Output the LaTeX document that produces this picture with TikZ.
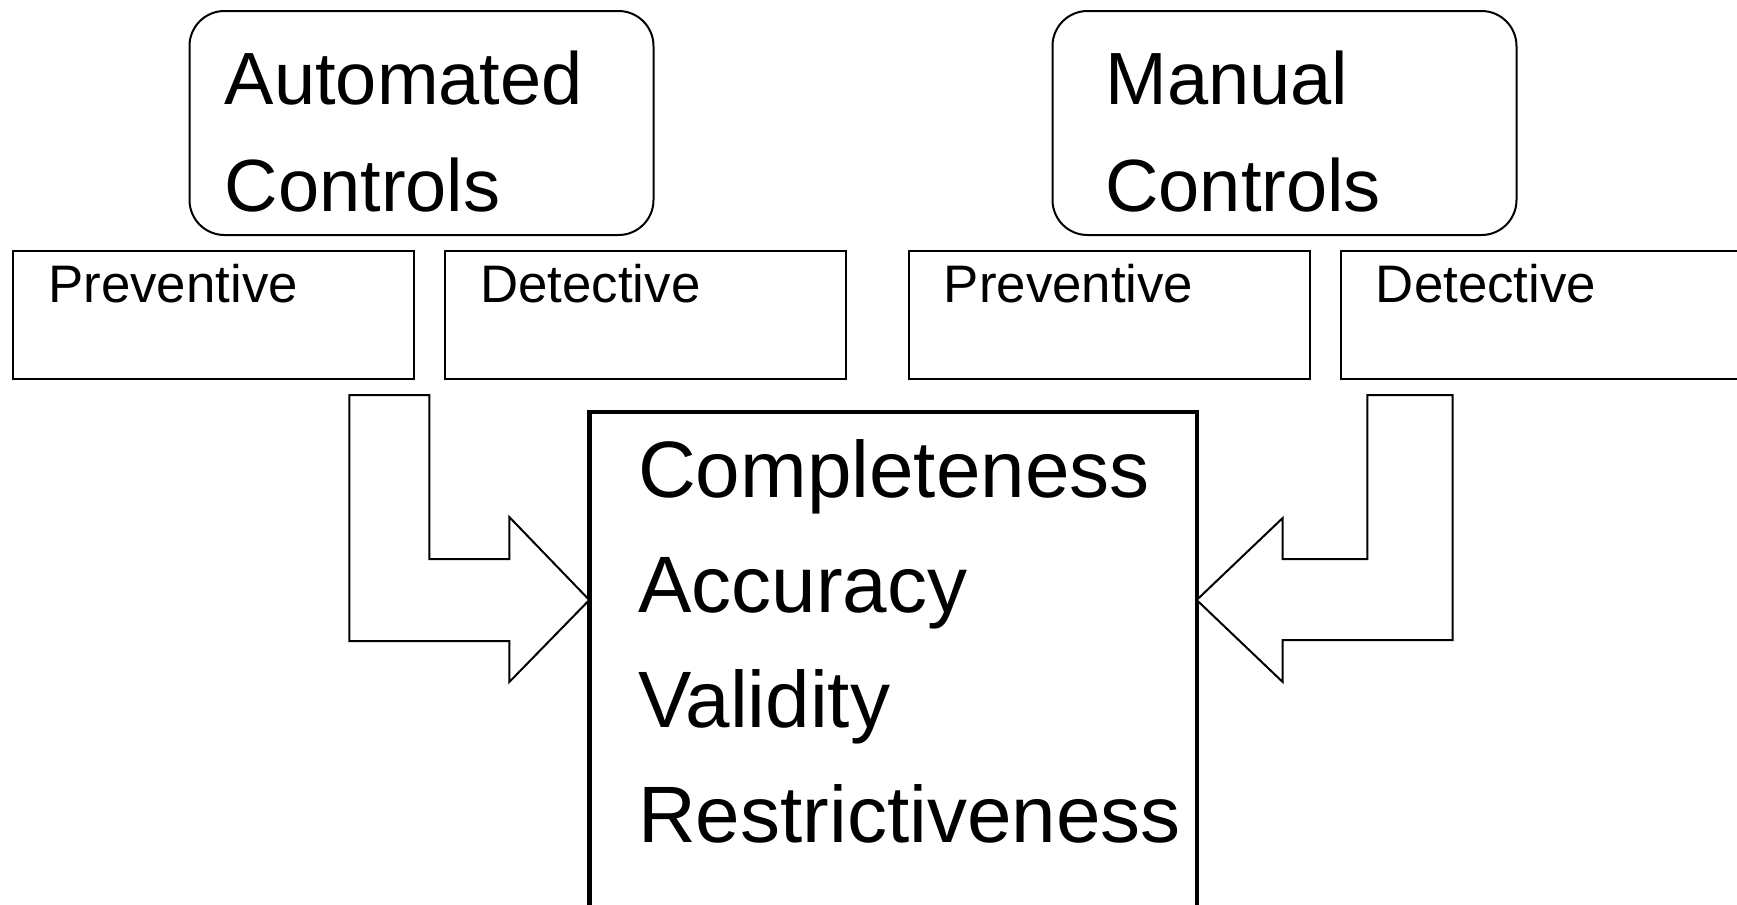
\documentclass[tikz,border=0pt]{standalone}
\usepackage{fontspec}
\setmainfont{Liberation Sans}
\usepackage{tikz}
\usetikzlibrary{positioning}

\tikzset{
  ctrlbox/.style={draw, rounded corners=17.5pt, line width=1pt, minimum width=232pt, minimum height=112pt, inner sep=0pt, outer sep=0pt},
  kindbox/.style={draw, line width=1pt, minimum width=200.5pt, minimum height=64pt, inner sep=0pt, outer sep=0pt},
  resultbox/.style={draw, line width=2.2pt, minimum width=303.7pt, minimum height=262pt, inner sep=0pt, outer sep=0pt},
  bigtext/.style={anchor=base west, inner sep=0pt, font=\fontsize{37}{44}\selectfont},
  midtext/.style={anchor=base west, inner sep=0pt, font=\fontsize{40}{48}\selectfont},
  smalltext/.style={anchor=base west, inner sep=0pt, font=\fontsize{26.4}{31}\selectfont},
  blockarrow/.style={draw, line width=1pt, fill=white}
}

\begin{document}
\begin{tikzpicture}[x=0.5pt,y=-0.5pt]
\useasboundingbox (0,0) rectangle (1737,905);
\fill[white] (0,0) rectangle (1737,905);
\clip (0,0) rectangle (1737,905);
% Drawing control boxes
\node[ctrlbox, anchor=north west] (autobox) at (189.5,11) {};
\node[bigtext] (autoA) at ([shift={(35,93)}]autobox.north west) {Automated};
\node[bigtext] (autoC) at ([shift={(35,200.7)}]autobox.north west) {Controls};
\node[ctrlbox, anchor=north west] (manbox) at (1052.5,11) {};
\node[bigtext] (manM) at ([shift={(52.5,93)}]manbox.north west) {Manual};
\node[bigtext] (manC) at ([shift={(52.5,200.7)}]manbox.north west) {Controls};
% Done with control boxes; drawing kinds
\node[kindbox, anchor=north west] (aprev) at (13,251) {};
\node[kindbox, right=15.5pt of aprev] (adet) {};
\node[kindbox, anchor=north west] (mprev) at (908.5,251) {};
\node[kindbox, right=15.5pt of mprev] (mdet) {};
\foreach \b/\t in {aprev/Preventive, adet/Detective, mprev/Preventive, mdet/Detective}
  \node[smalltext] (\b-t) at ([shift={(35,51.7)}]\b.north west) {\t};
% Done with kinds; drawing the assertions
\node[resultbox, anchor=north west] (cbox) at (589.3,411.7) {};
\foreach \w [count=\i] in {Completeness,Accuracy,Validity,Restrictiveness}
  \node[midtext] (q\i) at ([shift={(48.5,{85.8+115*(\i-1)})}]cbox.north west) {\w};
% Done with assertions; drawing arrows
\coordinate (ltip) at (cbox.north west |- 0,600);
\coordinate (rtip) at (cbox.north east |- 0,600);
\draw[blockarrow] (ltip) -- ++(-80,-83) -- ++(0,42) -- ++(-80,0) -- ++(0,-164)
  -- ++(-80,0) -- ++(0,246) -- ++(160,0) -- ++(0,41) -- cycle;
\draw[blockarrow] (rtip) -- ++(86,-82) -- ++(0,41) -- ++(84.6,0) -- ++(0,-164)
  -- ++(85.4,0) -- ++(0,245) -- ++(-170,0) -- ++(0,42) -- cycle;
% Done with arrows
\end{tikzpicture}
\end{document}
